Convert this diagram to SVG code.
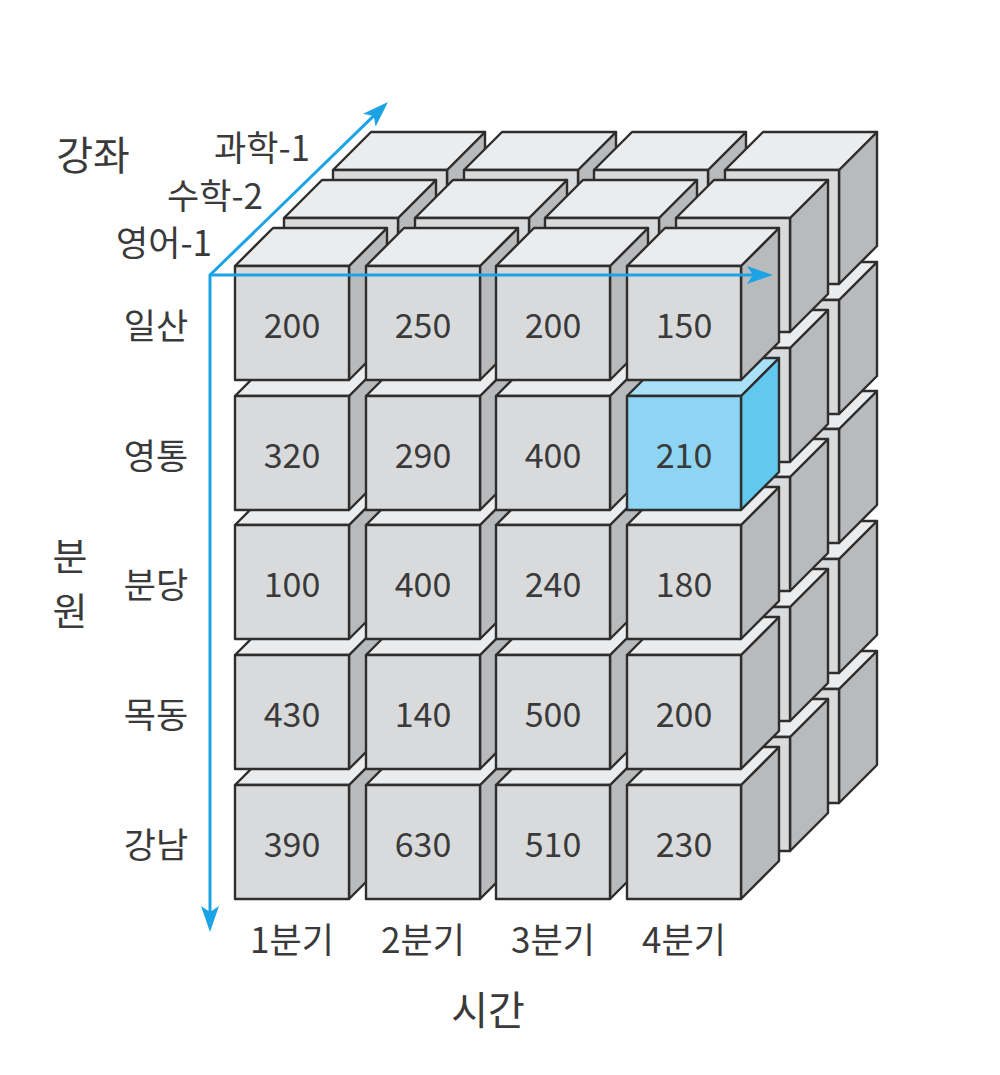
<svg xmlns="http://www.w3.org/2000/svg" xmlns:xlink="http://www.w3.org/1999/xlink" width="1000" height="1075" viewBox="0 0 1000 1075">
<style>
.f{fill:#d9dadc}
.t{fill:#ebecee}
.r{fill:#b9babc}
.hf{fill:#8ed4f3}
.ht{fill:#a8e1f8}
.hr{fill:#63c8ee}
.c polygon,.c rect{stroke:#2e2e2e;stroke-width:2.4;stroke-linejoin:round}
text{font-family:"Noto Sans CJK KR","Noto Sans",sans-serif;fill:#3a3a3a;text-anchor:middle;dominant-baseline:central}
.v{font-size:34px}
.lab{font-size:35px}
.big{font-size:40px}
.vert{font-size:38px}
.ax{stroke:#1ba3e6;stroke-width:3;fill:none}
</style>
<defs>
<g id="cube" class="c"><polygon class="r" points="114,0 152,-38 152,76 114,114"/><polygon class="t" points="0,0 38,-38 152,-38 114,0"/><rect class="f" x="0" y="0" width="114" height="114"/></g>
<g id="cubeHi" class="c"><polygon class="hr" points="114,0 152,-38 152,76 114,114"/><polygon class="ht" points="0,0 38,-38 152,-38 114,0"/><rect class="hf" x="0" y="0" width="114" height="114"/></g>
<marker id="ah" viewBox="0 0 26 18" refX="20" refY="9" markerWidth="26" markerHeight="18" markerUnits="userSpaceOnUse" orient="auto"><path d="M0,0 L26,9 L0,18 L6,9 Z" fill="#1ba3e6"/></marker>
</defs>
<rect width="1000" height="1075" fill="#ffffff"/>
<g id="layer-science">
<g id="s-r4c0"><use href="#cube" x="333" y="689"/></g>
<g id="s-r4c1"><use href="#cube" x="464" y="689"/></g>
<g id="s-r4c2"><use href="#cube" x="594" y="689"/></g>
<g id="s-r4c3"><use href="#cube" x="725" y="689"/></g>
<g id="s-r3c0"><use href="#cube" x="333" y="559"/></g>
<g id="s-r3c1"><use href="#cube" x="464" y="559"/></g>
<g id="s-r3c2"><use href="#cube" x="594" y="559"/></g>
<g id="s-r3c3"><use href="#cube" x="725" y="559"/></g>
<g id="s-r2c0"><use href="#cube" x="333" y="429"/></g>
<g id="s-r2c1"><use href="#cube" x="464" y="429"/></g>
<g id="s-r2c2"><use href="#cube" x="594" y="429"/></g>
<g id="s-r2c3"><use href="#cube" x="725" y="429"/></g>
<g id="s-r1c0"><use href="#cube" x="333" y="300"/></g>
<g id="s-r1c1"><use href="#cube" x="464" y="300"/></g>
<g id="s-r1c2"><use href="#cube" x="594" y="300"/></g>
<g id="s-r1c3"><use href="#cube" x="725" y="300"/></g>
<g id="s-r0c0"><use href="#cube" x="333" y="170"/></g>
<g id="s-r0c1"><use href="#cube" x="464" y="170"/></g>
<g id="s-r0c2"><use href="#cube" x="594" y="170"/></g>
<g id="s-r0c3"><use href="#cube" x="725" y="170"/></g>
</g>
<g id="layer-math">
<g id="m-r4c0"><use href="#cube" x="284" y="737"/></g>
<g id="m-r4c1"><use href="#cube" x="415" y="737"/></g>
<g id="m-r4c2"><use href="#cube" x="545" y="737"/></g>
<g id="m-r4c3"><use href="#cube" x="676" y="737"/></g>
<g id="m-r3c0"><use href="#cube" x="284" y="607"/></g>
<g id="m-r3c1"><use href="#cube" x="415" y="607"/></g>
<g id="m-r3c2"><use href="#cube" x="545" y="607"/></g>
<g id="m-r3c3"><use href="#cube" x="676" y="607"/></g>
<g id="m-r2c0"><use href="#cube" x="284" y="477"/></g>
<g id="m-r2c1"><use href="#cube" x="415" y="477"/></g>
<g id="m-r2c2"><use href="#cube" x="545" y="477"/></g>
<g id="m-r2c3"><use href="#cube" x="676" y="477"/></g>
<g id="m-r1c0"><use href="#cube" x="284" y="348"/></g>
<g id="m-r1c1"><use href="#cube" x="415" y="348"/></g>
<g id="m-r1c2"><use href="#cube" x="545" y="348"/></g>
<g id="m-r1c3"><use href="#cube" x="676" y="348"/></g>
<g id="m-r0c0"><use href="#cube" x="284" y="218"/></g>
<g id="m-r0c1"><use href="#cube" x="415" y="218"/></g>
<g id="m-r0c2"><use href="#cube" x="545" y="218"/></g>
<g id="m-r0c3"><use href="#cube" x="676" y="218"/></g>
</g>
<g id="layer-english">
<g id="e-r4c0"><use href="#cube" x="235" y="785"/><text class="v" x="292" y="842">390</text></g>
<g id="e-r4c1"><use href="#cube" x="366" y="785"/><text class="v" x="423" y="842">630</text></g>
<g id="e-r4c2"><use href="#cube" x="496" y="785"/><text class="v" x="553" y="842">510</text></g>
<g id="e-r4c3"><use href="#cube" x="627" y="785"/><text class="v" x="684" y="842">230</text></g>
<g id="e-r3c0"><use href="#cube" x="235" y="655"/><text class="v" x="292" y="712">430</text></g>
<g id="e-r3c1"><use href="#cube" x="366" y="655"/><text class="v" x="423" y="712">140</text></g>
<g id="e-r3c2"><use href="#cube" x="496" y="655"/><text class="v" x="553" y="712">500</text></g>
<g id="e-r3c3"><use href="#cube" x="627" y="655"/><text class="v" x="684" y="712">200</text></g>
<g id="e-r2c0"><use href="#cube" x="235" y="525"/><text class="v" x="292" y="582">100</text></g>
<g id="e-r2c1"><use href="#cube" x="366" y="525"/><text class="v" x="423" y="582">400</text></g>
<g id="e-r2c2"><use href="#cube" x="496" y="525"/><text class="v" x="553" y="582">240</text></g>
<g id="e-r2c3"><use href="#cube" x="627" y="525"/><text class="v" x="684" y="582">180</text></g>
<g id="e-r1c0"><use href="#cube" x="235" y="396"/><text class="v" x="292" y="453">320</text></g>
<g id="e-r1c1"><use href="#cube" x="366" y="396"/><text class="v" x="423" y="453">290</text></g>
<g id="e-r1c2"><use href="#cube" x="496" y="396"/><text class="v" x="553" y="453">400</text></g>
<g id="e-r1c3"><use href="#cubeHi" x="627" y="396"/><text class="v" x="684" y="453">210</text></g>
<g id="e-r0c0"><use href="#cube" x="235" y="266"/><text class="v" x="292" y="323">200</text></g>
<g id="e-r0c1"><use href="#cube" x="366" y="266"/><text class="v" x="423" y="323">250</text></g>
<g id="e-r0c2"><use href="#cube" x="496" y="266"/><text class="v" x="553" y="323">200</text></g>
<g id="e-r0c3"><use href="#cube" x="627" y="266"/><text class="v" x="684" y="323">150</text></g>
</g>
<g id="connectors">
<line class="ax" x1="210" y1="275" x2="767" y2="275" marker-end="url(#ah)"/>
<line class="ax" x1="210" y1="274" x2="210" y2="926" marker-end="url(#ah)"/>
<line class="ax" x1="210" y1="275" x2="383.7" y2="106.2" marker-end="url(#ah)"/>
</g>
<g id="labels">
<text class="big" x="93" y="153">강좌</text>
<text class="lab" x="262" y="145">과학-1</text>
<text class="lab" x="215" y="193">수학-2</text>
<text class="lab" x="164" y="240">영어-1</text>
<text class="lab" x="156" y="323">일산</text>
<text class="lab" x="156" y="453">영통</text>
<text class="lab" x="156" y="582">분당</text>
<text class="lab" x="156" y="712">목동</text>
<text class="lab" x="156" y="842">강남</text>
<text class="vert" x="70" y="553">분</text>
<text class="vert" x="70" y="608">원</text>
<text class="lab" x="292" y="937">1분기</text>
<text class="lab" x="423" y="937">2분기</text>
<text class="lab" x="553" y="937">3분기</text>
<text class="lab" x="684" y="937">4분기</text>
<text class="big" x="488" y="1008">시간</text>
</g>
</svg>
